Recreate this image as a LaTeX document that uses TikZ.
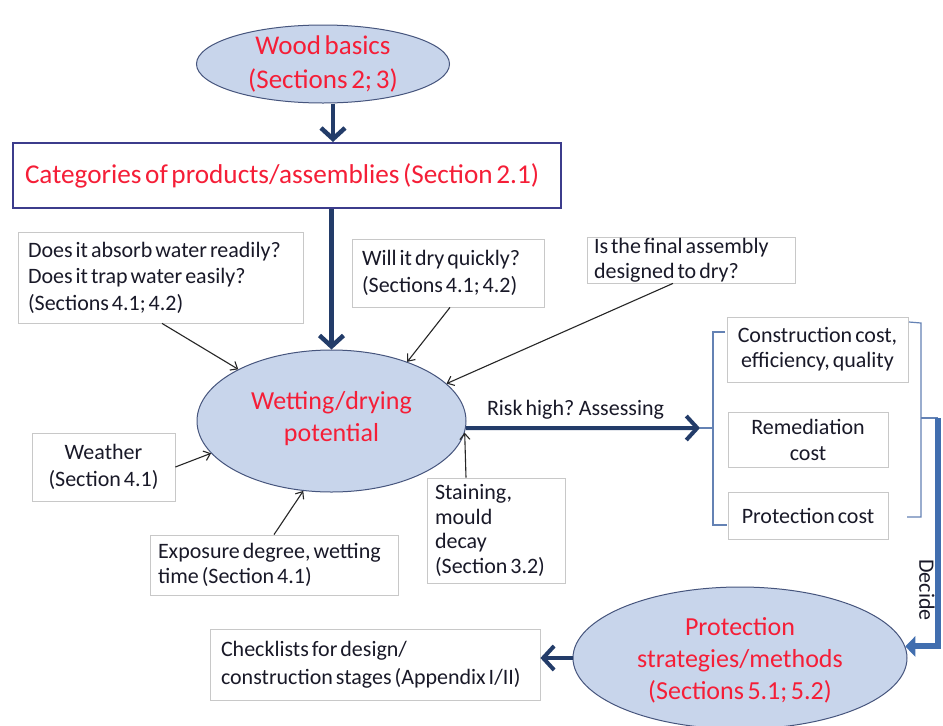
\documentclass[tikz,border=0pt]{standalone}
\usepackage{fontspec}
\setmainfont[WordSpace=0.6]{Carlito}
\usetikzlibrary{arrows.meta,shapes.geometric,calc}
\definecolor{navy}{RGB}{35,60,105}
\definecolor{ellfill}{RGB}{200,213,235}
\definecolor{ellline}{RGB}{70,85,125}
\definecolor{redtext}{RGB}{245,30,55}
\definecolor{decblue}{RGB}{65,110,175}
\definecolor{brk}{RGB}{100,130,180}
\definecolor{boxgray}{RGB}{200,200,200}
\definecolor{catline}{RGB}{60,60,140}
\definecolor{txt}{RGB}{25,25,40}
\begin{document}
\begin{tikzpicture}[x=1pt,y=-1pt,
  box/.style={draw=boxgray, line width=0.8pt, fill=white, inner sep=0pt, text=txt,
    font=\fontsize{22}{26.5}\selectfont},
  ell/.style={ellipse, draw=ellline, line width=1pt, fill=ellfill, inner sep=0pt},
  redtxt/.style={text=redtext, align=center, font=\fontsize{26}{32}\selectfont},
  thinarrow/.style={draw=black!85, line width=1.1pt, -{Straight Barb[length=6pt,width=10pt]}},
  navyarrow/.style={draw=navy, line width=4.5pt, -{Straight Barb[length=11pt,width=24pt]}},
  brkline/.style={draw=brk, line width=1.2pt},
]
\useasboundingbox (0,0) rectangle (943,726);
\fill[white] (0,0) rectangle (943,726);

% ellipses
\node[ell, minimum width=253pt, minimum height=78pt] (wood) at (323,64) {};
\node[redtxt, font=\fontsize{27}{34}\selectfont] (woodt) at (wood) {Wood basics\\(Sections 2; 3)};

\node[ell, minimum width=269pt, minimum height=142pt] (wet) at (331.5,421) {};
\node[redtxt] (wett) at (331.5,419) {Wetting/drying\\potential};

\node[ell, minimum width=334pt, minimum height=142pt] (prot) at (740,658) {};
\node[redtxt] (prott) at (740,660) {Protection\\strategies/methods\\(Sections 5.1; 5.2)};

% category box
\node[box, draw=catline, line width=2pt, minimum width=548pt, minimum height=65pt,
  text width=524pt, align=flush left, text=redtext, font=\fontsize{27.2}{32}\selectfont]
  (cat) at (287,175.5) {Categories of products/assemblies (Section 2.1)};

% question boxes
\node[box, minimum width=285pt, minimum height=91pt, text width=265pt, align=flush left]
  (q1) at (160.5,277.5) {Does it absorb water readily?\\Does it trap water easily?\\(Sections 4.1; 4.2)};
\node[box, minimum width=192pt, minimum height=68pt, text width=172pt, align=flush left]
  (q2) at (448,273) {Will it dry quickly?\\(Sections 4.1; 4.2)};
\node[box, minimum width=208pt, minimum height=46pt, text width=194pt, align=flush left,
  font=\fontsize{22}{25}\selectfont]
  (q3) at (691,260) {Is the final assembly\\designed to dry?};
\node[box, minimum width=143pt, minimum height=68pt, align=center]
  (weather) at (103.5,467) {Weather\\(Section 4.1)};
\node[box, minimum width=248pt, minimum height=60pt, text width=232pt, align=flush left,
  font=\fontsize{22}{25}\selectfont]
  (expo) at (274,565) {Exposure degree, wetting\\time (Section 4.1)};
\node[box, minimum width=138pt, minimum height=105pt, text width=122pt, align=flush left,
  font=\fontsize{22}{24.5}\selectfont]
  (stain) at (496,530.5) {Staining,\\mould\\decay\\(Section 3.2)};
\node[box, minimum width=330pt, minimum height=71pt, text width=308pt, align=flush left,
  font=\fontsize{22}{28}\selectfont]
  (check) at (375,664.5) {Checklists for design/\\construction stages (Appendix I/II)};

% cost boxes
\node[box, minimum width=181pt, minimum height=65pt, align=center,
  font=\fontsize{22}{25}\selectfont]
  (cc) at (817.5,349.5) {Construction cost,\\efficiency, quality};
\node[box, minimum width=160pt, minimum height=55pt, align=center,
  font=\fontsize{22}{26}\selectfont]
  (rc) at (808,439.5) {Remediation\\cost};
\node[box, minimum width=160pt, minimum height=47pt, align=center]
  (pc) at (808,515.5) {Protection cost};

% brackets
\coordinate (lbmid) at (713,428);
\draw[brkline] (725,332) -- (713,332) -- (713,525) -- (727,525);
\coordinate (rbmid) at (921,418);
\draw[brkline] (909,322) -- (921,323) -- (921,517) -- (907,517);
\coordinate (dstart) at (938,418);
\draw[brkline] (rbmid) -- (dstart);

% thick arrows
\draw[navyarrow] ([xshift=10pt]wood.south) -- ([xshift=10pt]wood.south |- cat.north);
\draw[navyarrow] (wet.north |- cat.south) -- (wet.north);
\coordinate (riskend) at (700,428);
\draw[navyarrow, line width=4pt] (wet.357) -- (riskend);
\draw[brkline] (riskend) -- (lbmid);
\node[text=txt, font=\fontsize{22}{26}\selectfont] (risk) at (575.5,410) {Risk high? Assessing};
\draw[navyarrow, line width=4pt] (prot.west) -- (prot.west -| check.east);

% decide arrow
\draw[draw=decblue, line width=6pt, -{Triangle[length=10pt,width=20pt]}]
  (dstart) |- (prot.4);
\node[rotate=-90, text=txt, font=\fontsize{22}{26}\selectfont] (decide) at (927,590) {Decide};

% thin arrows
\draw[thinarrow] ([xshift=1.5pt]q1.south) -- (wet.151);
\draw[thinarrow] ([xshift=2pt]q2.south) -- (wet.38);
\draw[thinarrow] ([xshift=-18pt]q3.south) -- (wet.18);
\draw[thinarrow] (weather.east) -- (wet.195);
\draw[thinarrow] (expo.north) -- (wet.248);
\draw[thinarrow] ([xshift=-30pt]stain.north) -- (wet.355);
\end{tikzpicture}
\end{document}
